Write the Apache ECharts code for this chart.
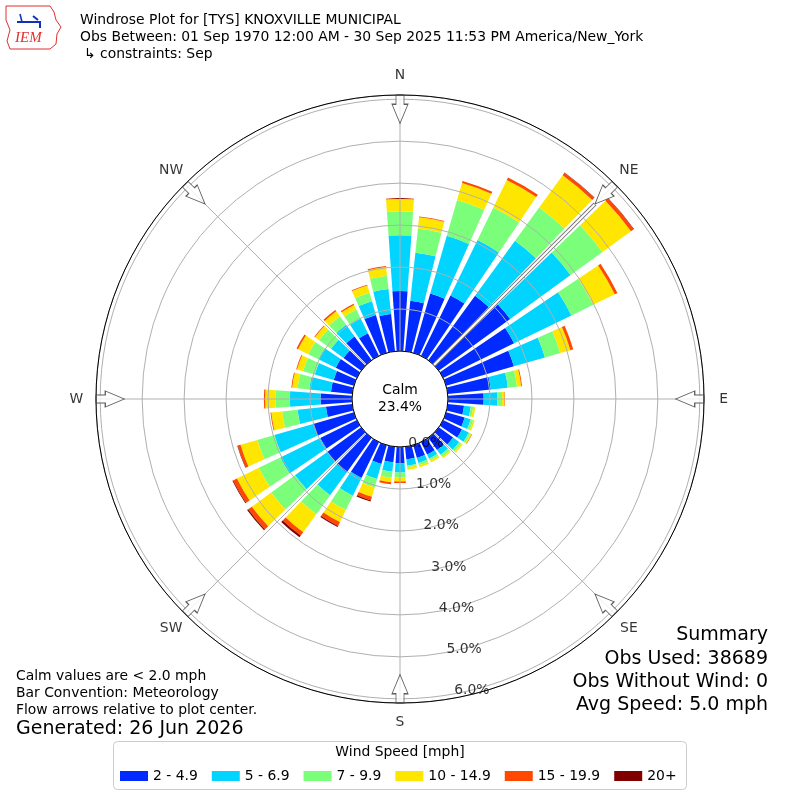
<!DOCTYPE html>
<html><head><meta charset="utf-8">
<script src="https://cdn.jsdelivr.net/npm/echarts@6/dist/echarts.min.js"></script>
<style>html,body{margin:0;padding:0;background:#fff}#c{width:800px;height:800px}</style>
</head><body><div id="c"></div>
<script>
// ---- data (percent of observations) ----
const directions = [0,10,20,30,40,50,60,70,80,90,100,110,120,130,140,150,160,170,180,190,200,210,220,230,240,250,260,270,280,290,300,310,320,330,340,350];
const speedBins = ['2 - 4.9','5 - 6.9','7 - 9.9','10 - 14.9','15 - 19.9','20+'];
const binColors = ['#002aff','#00d4ff','#7bff7b','#ffe600','#ff4800','#800000'];
const pct_2_49 = [1.43,1.21,1.47,1.60,1.90,2.10,1.88,1.68,1.03,0.85,0.39,0.46,0.50,0.42,0.36,0.33,0.32,0.30,0.39,0.37,0.47,0.95,1.02,1.00,0.97,1.01,0.63,0.75,0.51,0.50,0.56,0.52,0.70,0.60,0.94,0.89];
const pct_5_69 = [1.33,1.15,1.43,1.47,1.62,1.78,1.52,0.77,0.41,0.33,0.16,0.15,0.18,0.18,0.14,0.11,0.12,0.15,0.22,0.23,0.37,0.47,0.67,0.95,1.06,0.96,0.68,0.73,0.52,0.47,0.46,0.37,0.34,0.39,0.34,0.60];
const pct_7_99 = [0.57,0.58,0.89,0.86,0.98,0.94,0.58,0.38,0.22,0.11,0.06,0.06,0.05,0.06,0.06,0.05,0.06,0.04,0.11,0.14,0.21,0.38,0.56,0.70,0.57,0.42,0.37,0.35,0.28,0.29,0.27,0.35,0.25,0.24,0.21,0.32];
const pct_10_149 = [0.29,0.27,0.42,0.73,0.95,0.84,0.57,0.25,0.10,0.06,0.05,0.04,0.03,0.04,0.04,0.05,0.05,0.06,0.10,0.11,0.23,0.32,0.53,0.57,0.58,0.42,0.26,0.24,0.13,0.15,0.27,0.12,0.15,0.12,0.18,0.21];
const pct_15_199 = [0.02,0.02,0.05,0.07,0.07,0.08,0.07,0.07,0.02,0.01,0,0,0.01,0,0,0,0,0,0.04,0.05,0.09,0.10,0.10,0.11,0.10,0.07,0.02,0.03,0.02,0.02,0.04,0.02,0.04,0.03,0.02,0.02];
const pct_20p = [0,0,0,0,0.01,0.01,0,0,0,0,0,0,0,0,0,0,0,0,0,0,0.03,0.03,0.05,0.03,0.02,0.01,0,0,0,0,0,0,0,0,0,0];
const ringTicks = [0,1,2,3,4,5,6];
const compassAngles = [0,45,90,135,180,225,270,315];
const compassNames = ['N','NE','E','SE','S','SW','W','NW'];
const calmPct = 23.4;
const summaryLines = ['Summary','Obs Used: 38689','Obs Without Wind: 0','Avg Speed: 5.0 mph'];

const binData = [pct_2_49,pct_5_69,pct_7_99,pct_10_149,pct_15_199,pct_20p];
const FONT = 'DejaVu Sans';
const CX = 400, CY = 399, R0 = 48, R1 = 304, RMAX = 6.1;

const chart = echarts.init(document.getElementById('c'), null, {renderer:'canvas'});

const barSeries = binData.map((d,i) => ({
  type:'bar', name: speedBins[i], coordinateSystem:'polar', polarIndex:0,
  stack:'rose', data:d, barCategoryGap:'20%', z:2,
  itemStyle:{color:binColors[i]}, silent:true
}));

function txt(text, x, y, size, opts) {
  return Object.assign({type:'text', x:x, y:y, silent:true, z:20,
    style:Object.assign({text:text, fontSize:size, fontFamily:FONT, fill:'#000', align:'left', verticalAlign:'middle'}, (opts||{}))});
}

const graphics = [
  // IEM logo (decoration)
  {type:'polyline', silent:true, shape:{points:[[6,6],[50,6],[54,12],[56,20],[61,27],[57,34],[56,44],[50,49],[10,49],[7,41],[10,30],[6,20],[6,6]]},
   style:{stroke:'#e03030', fill:'none', lineWidth:1}},
  {type:'polyline', silent:true, shape:{points:[[17,22],[40,22],[40,28]]}, style:{stroke:'#1030c0', fill:'none', lineWidth:2}},
  {type:'polyline', silent:true, shape:{points:[[20,14],[22,22]]}, style:{stroke:'#1030c0', fill:'none', lineWidth:1.5}},
  {type:'polyline', silent:true, shape:{points:[[33,16],[38,20]]}, style:{stroke:'#1030c0', fill:'none', lineWidth:2}},
  txt('IEM', 15, 38, 15, {fill:'#e03030', fontFamily:'Liberation Serif', fontStyle:'italic'}),
  // title
  txt('Windrose Plot for [TYS] KNOXVILLE MUNICIPAL', 80, 20, 13.9),
  txt('Obs Between: 01 Sep 1970 12:00 AM - 30 Sep 2025 11:53 PM America/New_York', 80, 37, 13.9),
  txt('\u21b3 constraints: Sep', 84, 54, 13.9),
  // calm circle text
  txt('Calm', CX, 390, 13.9, {align:'center'}),
  txt(calmPct.toFixed(1) + '%', CX, 407, 13.9, {align:'center'}),
  // bottom-left notes
  txt('Calm values are < 2.0 mph', 16, 676, 13.9),
  txt('Bar Convention: Meteorology', 16, 693, 13.9),
  txt('Flow arrows relative to plot center.', 16, 710, 13.9),
  txt('Generated: 26 Jun 2026', 16, 729, 19),
  // legend box + title
  {type:'rect', silent:true, z:0, shape:{x:113.5, y:741.5, width:573, height:48, r:4}, style:{stroke:'#cccccc', fill:'none', lineWidth:1}},
  txt('Wind Speed [mph]', 400, 752, 13.9, {align:'center'})
];
summaryLines.forEach((s,i) => graphics.push(txt(s, 768, [635,659,682,705][i], 19, {align:'right'})));

const arrowPath = 'path://M4,0 L12,0 L12,9 L16,9 L8,28 L0,9 L4,9 Z';

const option = {
  animation:false,
  backgroundColor:'#fff',
  polar:[
    {center:[CX,CY], radius:[R0,R1]},
    {center:[CX,CY], radius:[R0,R1]}
  ],
  angleAxis:[
    {polarIndex:0, type:'category', data:directions.map(String), startAngle:95, clockwise:true,
     axisLine:{show:false}, axisTick:{show:false}, axisLabel:{show:false}, splitLine:{show:false}, splitArea:{show:false}},
    {polarIndex:1, type:'value', min:0, max:360, interval:45, startAngle:90, clockwise:true, z:10,
     axisLine:{show:true, lineStyle:{color:'#000', width:1}}, axisTick:{show:false},
     axisLabel:{show:false},
     splitLine:{show:true, lineStyle:{color:'#b0b0b0', width:1}}, splitArea:{show:false}}
  ],
  radiusAxis:[
    {polarIndex:0, type:'value', min:0, max:RMAX, interval:1, z:10,
     axisLine:{show:false}, axisTick:{show:false}, axisLabel:{show:false},
     splitLine:{show:true, lineStyle:{color:'#b0b0b0', width:1}}, splitArea:{show:false}},
    {polarIndex:1, type:'value', min:0, max:RMAX, show:false}
  ],
  legend:{
    data:speedBins, left:115, top:764, orient:'horizontal', icon:'rect', itemWidth:28, itemHeight:10, itemGap:14,
    selectedMode:false, textStyle:{fontSize:13.9, fontFamily:FONT, color:'#000'}
  },
  graphic:graphics,
  series: barSeries.concat([
    {type:'line', coordinateSystem:'polar', polarIndex:1, data:[[0,45],[5.43,45]], symbol:'none', silent:true, z:11,
     lineStyle:{color:'#777', width:4}},
    {type:'line', coordinateSystem:'polar', polarIndex:1, data:[[0,45],[5.43,45]], symbol:'none', silent:true, z:12,
     lineStyle:{color:'#fff', width:2}},
    {type:'scatter', coordinateSystem:'polar', polarIndex:1, silent:true, z:13,
     data:compassAngles.map(a => ({value:[5.76, a], symbolRotate:-a})),
     symbol:arrowPath, symbolSize:[16,28],
     itemStyle:{color:'#fff', borderColor:'#333', borderWidth:1}},
    {type:'scatter', coordinateSystem:'polar', polarIndex:1, silent:true, z:14, clip:false,
     data:compassAngles.map((a,i) => ({value:[6.57, a], name:compassNames[i]})),
     symbolSize:1, itemStyle:{color:'rgba(0,0,0,0)'},
     label:{show:true, position:'inside', align:'center', verticalAlign:'middle',
       fontSize:13.9, fontFamily:FONT, color:'#000', formatter:p => p.name}},
    {type:'scatter', coordinateSystem:'polar', polarIndex:1, silent:true, z:14,
     data:ringTicks.map(t => [t, 169.5]), symbolSize:1, itemStyle:{color:'rgba(0,0,0,0)'},
     label:{show:true, position:'right', distance:0, align:'left', verticalAlign:'bottom', offset:[-1,4],
       fontSize:13.9, fontFamily:FONT, color:'#000', formatter:p => p.value[0].toFixed(1) + '%'}}
  ])
};
chart.setOption(option);
</script></body></html>
